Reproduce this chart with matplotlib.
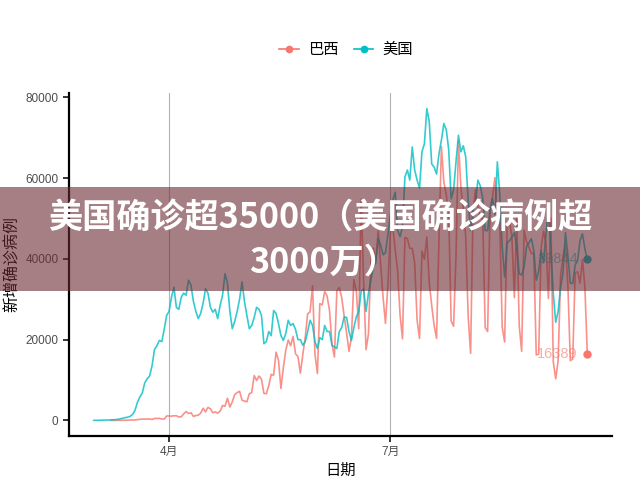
import numpy as np
import pandas as pd
import matplotlib
matplotlib.use("Agg")
import matplotlib.pyplot as plt
import matplotlib.dates as mdates
from matplotlib.lines import Line2D
from matplotlib.patches import Rectangle

plt.rcParams['font.family'] = ['Liberation Sans', 'Noto Sans CJK SC', 'DejaVu Sans']

# daily new cases, one row per week (Sun..Sat)
us_start = "2020-03-01"
us_cases = [
    10, 20, 25, 30, 50, 80, 100,
    120, 150, 200, 270, 400, 550, 700,
    800, 1000, 1500, 2500, 4500, 5800, 6800,
    9300, 10300, 11000, 13500, 17500, 18500, 19800,
    19500, 22500, 26000, 27000, 30500, 33000, 28000,
    27500, 30500, 31500, 31000, 34700, 33500, 29500,
    27000, 25200, 26500, 29000, 32600, 31500, 28000,
    26800, 27500, 25200, 28500, 31000, 36300, 34000,
    27000, 22700, 24500, 27000, 30000, 34300, 29500,
    26000, 22700, 23500, 25500, 28000, 27500, 26000,
    19000, 19500, 22000, 21000, 27200, 26500, 24000,
    21000, 19800, 21500, 24800, 23500, 24000, 22500,
    20000, 20000, 18600, 19500, 22000, 24800, 23500,
    19500, 17800, 20500, 20000, 23500, 22000, 22000,
    18600, 18200, 17800, 22000, 23000, 25600, 25500,
    22000, 19800, 23000, 25600, 27000, 32000, 32500,
    27000, 31500, 34700, 38000, 39000, 45000, 43500,
    41000, 41500, 46000, 51000, 54500, 56500, 47000,
    45500, 48000, 60300, 62000, 59500, 67700, 62000,
    59500, 57500, 66500, 68500, 77200, 74000, 63500,
    62700, 61000, 66000, 69400, 73500, 72000, 67000,
    54900, 57000, 64000, 70600, 66500, 68000, 65200,
    54500, 47000, 52000, 54000, 59500, 58000, 55000,
    47000, 47000, 52000, 55000, 51000, 64000, 56000,
    43000, 35500, 44000, 44500, 45400, 46500, 43000,
    36300, 36000, 38000, 43000, 44000, 45000, 42000,
    34700, 37000, 42000, 39000, 46200, 52000, 42500,
    31500, 24300, 27000, 33000, 36500, 46500, 41000,
    34000, 33900, 38500, 39500, 44500, 46200, 42500,
    39844,
]

br_start = "2020-03-08"
br_cases = [
    10, 5, 10, 15, 25, 50, 30,
    80, 60, 100, 130, 190, 280, 300,
    350, 330, 350, 230, 480, 500, 500,
    350, 320, 1100, 1100, 1050, 1150, 1150,
    850, 900, 1600, 2200, 1700, 1900, 1000,
    1200, 1300, 1800, 3000, 2100, 3200, 2900,
    1900, 2100, 1800, 2300, 3700, 3500, 5500,
    3300, 4600, 6400, 6900, 7200, 5000, 4800,
    4600, 6600, 6900, 11100, 9900, 11000, 10200,
    6700, 6600, 8600, 11400, 11200, 16900, 14900,
    7900, 13100, 17400, 19900, 18500, 20800, 16500,
    15800, 11700, 16300, 20600, 26400, 26900, 33300,
    16400, 11600, 28900, 28600, 31900, 30800, 27100,
    18900, 15700, 32100, 32900, 30400, 25900, 21700,
    17100, 20600, 34900, 32200, 22700, 54800, 34700,
    17500, 21400, 39400, 42700, 39500, 46900, 38700,
    30500, 24000, 33800, 46700, 48100, 42200, 37000,
    26000, 20200, 45300, 45000, 42600, 42600, 39000,
    24800, 20300, 41900, 39900, 45400, 34100, 28500,
    23500, 20300, 44900, 67800, 59000, 55900, 51100,
    24600, 23300, 40800, 69100, 57800, 52400, 45400,
    25800, 16600, 51600, 57100, 53100, 50200, 49900,
    23000, 22000, 52200, 55200, 60100, 50600, 49300,
    23100, 19400, 47800, 49300, 45300, 30400, 50000,
    23400, 17100, 47100, 44200, 42900, 41300, 41400,
    16200, 16400, 42700, 46900, 43800, 30200, 50100,
    14500, 10300, 14800, 35800, 40600, 43700, 33500,
    14800, 15200, 36600, 36800, 34000, 39800, 33000,
    16389,
]

series_names = ["巴西", "美国"]
series_colors = ["#F8766D", "#00BFC4"]
x_ticks = ["2020-04-01", "2020-07-01"]
x_tick_labels = ["4月", "7月"]
y_ticks = [0, 20000, 40000, 60000, 80000]
x_label = "日期"
y_label = "新增确诊病例"
banner_lines = ["美国确诊超35000（美国确诊病例超", "3000万）"]

br_dates = pd.date_range(br_start, periods=len(br_cases), freq="D")
us_dates = pd.date_range(us_start, periods=len(us_cases), freq="D")
data = [(br_dates, np.array(br_cases)), (us_dates, np.array(us_cases))]

fig = plt.figure(figsize=(6.4, 4.8), dpi=100)
ax = fig.add_axes([69/640, 44/480, 543/640, 343/480])

for (d, v), name, col in zip(data, series_names, series_colors):
    ax.plot(d, v, color=col, lw=1.2, alpha=0.8, zorder=3)
    ax.plot(d[-1], v[-1], "o", color=col, ms=5, zorder=4)
    ax.annotate(str(v[-1]), (d[-1], v[-1]), xytext=(-7, 0), textcoords="offset points",
                ha="right", va="center", color=col, alpha=0.6, fontsize=10.5)

# ggplot-like 5% expansion
x0, x1 = mdates.date2num(us_dates[0]), mdates.date2num(us_dates[-1])
dx = (x1 - x0) * 0.05
ax.set_xlim(x0 - dx, x1 + dx)
ymax = max(max(us_cases), max(br_cases))
ax.set_ylim(-ymax * 0.05, ymax * 1.05)

ax.set_xticks(pd.to_datetime(x_ticks))
ax.set_xticklabels(x_tick_labels)
ax.set_yticks(y_ticks)
ax.set_yticklabels([str(t) for t in y_ticks])
ax.grid(axis="x", color="#b3b3b3", lw=0.8)
ax.grid(axis="y", visible=False)
ax.set_axisbelow(True)

for s in ["top", "right"]:
    ax.spines[s].set_visible(False)
for s in ["left", "bottom"]:
    ax.spines[s].set_linewidth(1.6)
ax.tick_params(length=4, width=1.1, colors="black", labelcolor="#4d4d4d", labelsize=8.5)
ax.set_xlabel(x_label, fontsize=11, labelpad=4)
ax.set_ylabel(y_label, fontsize=11.5, labelpad=4)

handles = [Line2D([], [], color=c, lw=1.2, marker="o", ms=4.5) for c in series_colors]
fig.legend(handles, series_names, loc="center", bbox_to_anchor=(346/640, 1 - 50/480), ncol=2,
           frameon=False, fontsize=11, handlelength=1.3, handletextpad=0.6, columnspacing=1.0)

# overlay banner
fig.patches.append(Rectangle((0, 1 - 291/480), 1, 104/480, transform=fig.transFigure,
                             facecolor=(107/255, 42/255, 50/255), alpha=0.6, zorder=10))
fig.text(0.5, 1 - 218/480, banner_lines[0], ha="center", va="center", color="white",
         fontsize=24.6, fontweight="bold", family=["Noto Sans CJK SC", "DejaVu Sans"], zorder=11)
fig.text(0.505, 1 - 262/480, banner_lines[1], ha="center", va="center", color="white",
         fontsize=24.6, fontweight="bold", family=["Noto Sans CJK SC", "DejaVu Sans"], zorder=11)

fig.savefig("out.png", dpi=100)
